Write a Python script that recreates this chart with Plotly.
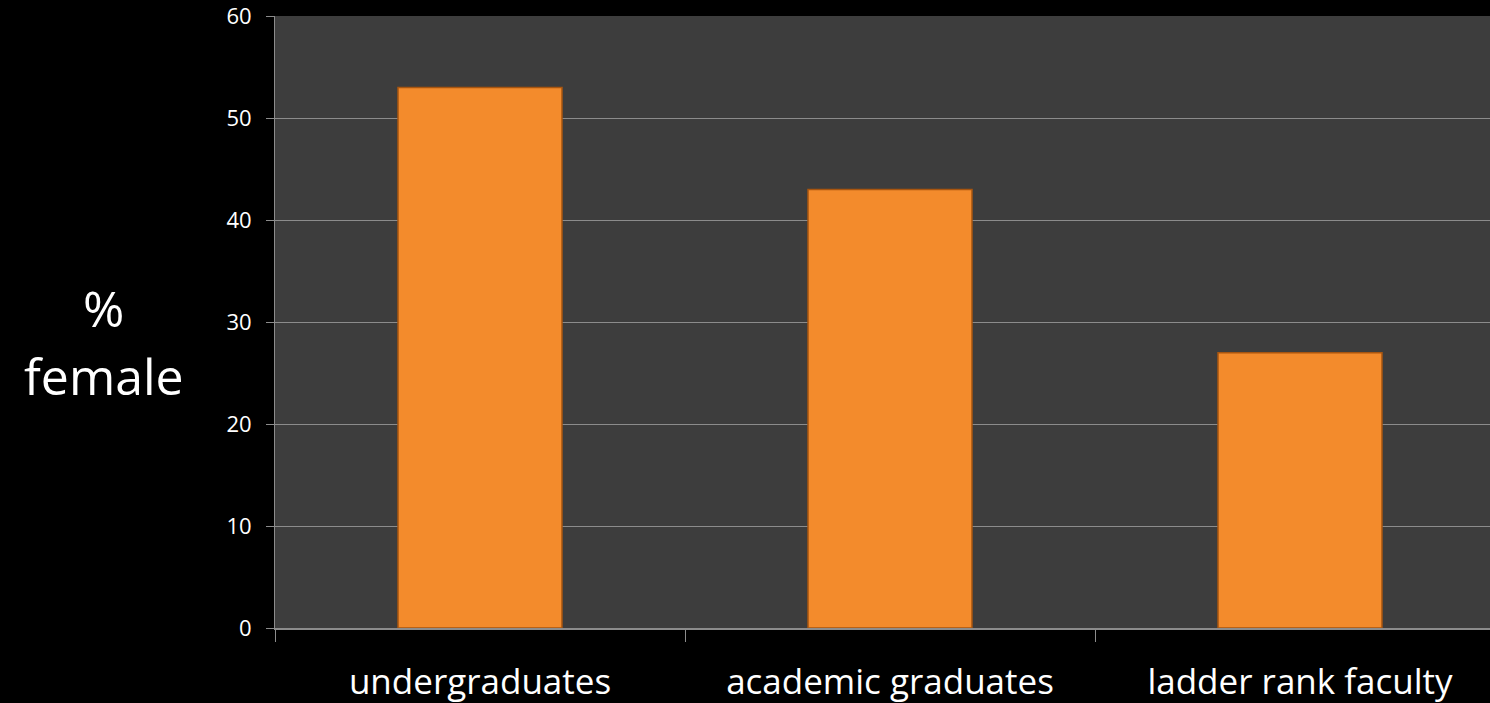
import plotly.graph_objects as go

categories = ["undergraduates", "academic graduates", "ladder rank faculty"]
values = [53, 43, 27]
y_ticks = [0, 10, 20, 30, 40, 50, 60]

FONT = "Open Sans, Lato, sans-serif"

fig = go.Figure()
fig.add_trace(go.Bar(
    x=categories, y=values, width=0.4,
    marker=dict(color="#F38B2C", line=dict(color="#A8550F", width=1.5)),
    hoverinfo="skip",
))

fig.update_layout(
    width=1490, height=703,
    paper_bgcolor="#000000", plot_bgcolor="#3D3D3D",
    margin=dict(l=275, r=0, t=16, b=75),
    showlegend=False,
    font=dict(family=FONT, color="#FFFFFF"),
    xaxis=dict(
        type="category", range=[-0.5, -0.5 + 1215 / 410],
        showline=True, linecolor="#8C8C8C", linewidth=2,
        ticks="outside", tickson="boundaries", ticklen=12, tickcolor="#8C8C8C", tickwidth=1,
        tickfont=dict(size=35, color="#FFFFFF", family=FONT),
        ticklabelstandoff=22,
        showgrid=False,
    ),
    yaxis=dict(
        range=[0, 60.02], tickvals=y_ticks,
        showline=True, linecolor="#8C8C8C", linewidth=1,
        ticks="outside", ticklen=8, tickcolor="#8C8C8C",
        gridcolor="#8C8C8C", gridwidth=1,
        tickfont=dict(size=22, color="#FFFFFF", family=FONT),
        ticklabelstandoff=10, ticklabeloverflow="allow",
        zeroline=False,
    ),
    annotations=[
        dict(text="%", xref="paper", yref="paper", x=-0.141, y=(628 - 308) / 612,
             xanchor="center", yanchor="middle", showarrow=False,
             font=dict(size=50, color="#FFFFFF", family=FONT)),
        dict(text="female", xref="paper", yref="paper", x=-0.141, y=(628 - 376) / 612,
             xanchor="center", yanchor="middle", showarrow=False,
             font=dict(size=50, color="#FFFFFF", family=FONT)),
    ],
)

fig.write_html("out.html", config={"displayModeBar": False},
               post_script="document.body.style.margin='0';document.body.style.background='#000';")
